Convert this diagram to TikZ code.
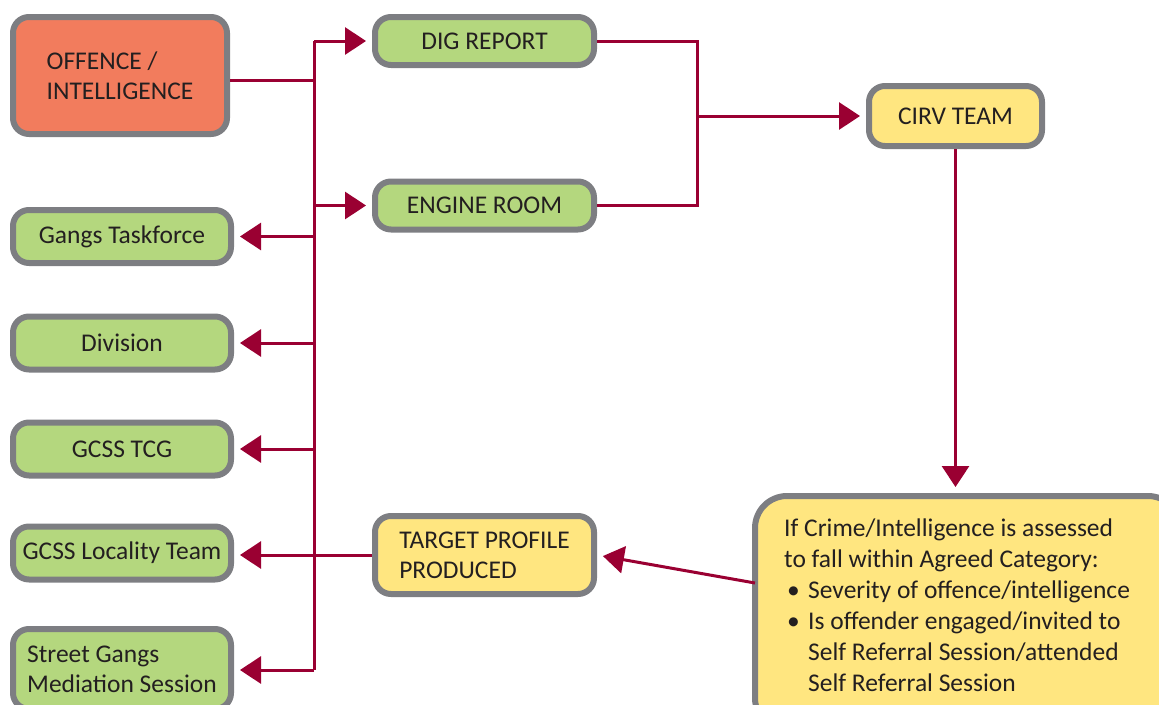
\documentclass[tikz,border=0pt]{standalone}
\usepackage{fontspec}
\setmainfont{Carlito}
\usetikzlibrary{arrows.meta}
\definecolor{linered}{HTML}{9A0032}
\definecolor{boxgray}{HTML}{7D7E82}
\definecolor{boxgreen}{HTML}{B4D77E}
\definecolor{boxyellow}{HTML}{FFE680}
\definecolor{boxorange}{HTML}{F27C5D}
\definecolor{txt}{HTML}{231F20}
\begin{document}
\begin{tikzpicture}[x=1pt,y=-1pt,
  box/.style={draw=boxgray, line width=6pt, rounded corners=16pt, inner sep=0pt,
    text=txt, font=\fontsize{25.5}{30}\selectfont, align=left},
  gbox/.style={box, fill=boxgreen, minimum width=218pt, minimum height=53pt},
  conn/.style={draw=linered, line width=3pt},
  arr/.style={conn, -{Triangle[length=21pt,width=27pt]}, shorten >=6pt},
]
\useasboundingbox (0,0) rectangle (1159,704);
% boxes
\node[box, fill=boxorange, minimum width=214pt, minimum height=117pt] (off) at (120,75.5) {OFFENCE /\\INTELLIGENCE};
\node[box, fill=boxgreen, minimum width=219pt, minimum height=48pt] (dig) at (484.5,41) {DIG REPORT};
\node[box, fill=boxgreen, minimum width=219pt, minimum height=48pt] (eng) at (484.5,205.5) {ENGINE ROOM};
\node[box, fill=boxyellow, minimum width=173pt, minimum height=60pt] (cirv) at (955.5,116) {CIRV TEAM};
\node[gbox] (gangs) at (122,236.5) {Gangs Taskforce};
\node[gbox] (div) at (122,343) {Division};
\node[gbox] (tcg) at (122,449) {GCSS TCG};
\node[gbox] (loc) at (122,553) {GCSS Locality Team};
\node[gbox, minimum height=80pt] (street) at (122,669) {Street Gangs\\Mediation Session};
\node[box, fill=boxyellow, minimum width=219pt, minimum height=78pt] (tgt) at (484.5,555) {TARGET PROFILE\\PRODUCED};
\node[box, fill=boxyellow, rounded corners=32pt, minimum width=425pt, minimum height=234pt] (big) at (967.5,613) {};
\node[anchor=north west, inner sep=0pt, text=txt, align=left,
  font=\fontsize{25.5}{31}\selectfont] (bigtext) at (784,519)
  {If Crime/Intelligence is assessed\\
   to fall within Agreed Category:\\
   \makebox[24pt][l]{\hspace{3pt}\textbullet}Severity of offence/intelligence\\
   \makebox[24pt][l]{\hspace{3pt}\textbullet}Is offender engaged/invited to\\
   \hspace*{24pt}Self Referral Session/attended\\
   \hspace*{24pt}Self Referral Session};
% coordinates
\coordinate (t0) at (314,41);
\coordinate (t1) at (314,80);
\coordinate (tb) at (314,670);
\coordinate (j) at (697,116);
\coordinate (bw) at (755,583);
% connectors
\draw[conn] (t0) -- (tb);
\draw[conn] (off.east |- t1) -- (t1);
\draw[arr] (t0) -- (dig.west);
\draw[arr] (t0 |- eng.west) -- (eng.west);
\draw[arr] (t0 |- gangs.east) -- (gangs.east);
\draw[arr] (t0 |- div.east) -- (div.east);
\draw[arr] (t0 |- tcg.east) -- (tcg.east);
\draw[arr] (tb) -- (tb -| street.east);
\draw[arr] (tgt.west) -- (tgt.west -| loc.east);
\draw[conn] (dig.east) -| (j) |- (eng.east);
\draw[arr] (j) -- (cirv.west);
\draw[arr] (cirv.south) -- (cirv.south |- big.north);
\draw[arr] (bw) -- (tgt.east);
\end{tikzpicture}
\end{document}
